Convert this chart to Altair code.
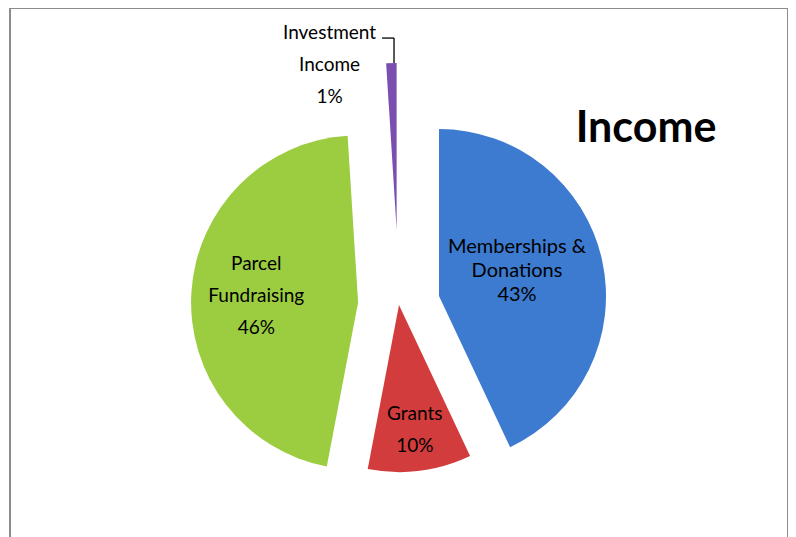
import altair as alt
import pandas as pd

# ---- data ----
keys = ["Memberships", "Grants", "Parcel", "Investment"]
names = ["Memberships &\nDonations", "Grants", "Parcel\nFundraising", "Investment\nIncome"]
shares = [43, 10, 46, 1]
colors = ["#3c7bd0", "#d23c3c", "#9ccc40", "#7a4fb0"]
TITLE = "Income"

# ---- style / layout ----
W, H = 778, 540
CX, CY = 389, 297          # pie centre in plot pixels
R = 167                    # pie radius
EXPLODE = {"Memberships": 41, "Grants": 0, "Parcel": 41, "Investment": 75}
LABEL_R = {"Memberships": 82, "Grants": 126, "Parcel": 102, "Investment": 178}
LABEL_DT = {"Memberships": -0.094, "Investment": -0.355}
FONT = "Lato"

labels = [f"{n}\n{s}%" for n, s in zip(names, shares)]
df = pd.DataFrame({
    "key": keys,
    "share": shares,
    "idx": list(range(len(keys))),
    "label": labels,
    "nl": [lab.count("\n") + 1 for lab in labels],
})


def lookup(d, default=0):
    expr = str(default)
    for k, v in d.items():
        expr = f"datum.key === '{k}' ? {v} : ({expr})"
    return expr


base = (
    alt.Chart(df)
    .transform_joinaggregate(total="sum(share)")
    .transform_window(cum="sum(share)", sort=[{"field": "idx"}], frame=[None, 0])
    .transform_calculate(
        a0="(datum.cum - datum.share) / datum.total * 2 * PI",
        a1="datum.cum / datum.total * 2 * PI",
    )
    .transform_calculate(
        mid="(datum.a0 + datum.a1) / 2",
        ex=lookup(EXPLODE),
        lr=lookup(LABEL_R),
        dt=lookup(LABEL_DT),
    )
    .transform_calculate(
        tx=f"{CX} + datum.ex * sin(datum.mid)",
        ty=f"{CY} - datum.ex * cos(datum.mid)",
        la="(datum.mid + datum.a1) / 2",
    )
    .transform_calculate(
        lx="datum.tx + datum.lr * sin(datum.mid + datum.dt)",
        ly="datum.ty - datum.lr * cos(datum.mid + datum.dt)",
        ox=f"datum.tx + {R} * sin(datum.la)",
        oy=f"datum.ty - {R} * cos(datum.la)",
    )
)

arcs = base.mark_arc(radius=R).encode(
    x=alt.X("tx:Q", scale=None, axis=None),
    y=alt.Y("ty:Q", scale=None, axis=None),
    theta=alt.Theta("a0:Q", scale=None),
    theta2="a1:Q",
    color=alt.Color("key:N", scale=alt.Scale(domain=keys, range=colors), legend=None),
)


def text_layer(flt, size, lh):
    return base.transform_filter(flt).transform_calculate(
        ly2=f"datum.ly - (datum.nl - 1) * {lh} / 2"
    ).mark_text(
        font=FONT, fontSize=size, lineHeight=lh, lineBreak="\n",
        align="center", baseline="middle", color="#000000",
    ).encode(
        x=alt.X("lx:Q", scale=None), y=alt.Y("ly2:Q", scale=None), text="label:N"
    )


text_m = text_layer("datum.key === 'Memberships'", 20, 24)
text_o = text_layer("datum.key !== 'Memberships'", 19, 32)

lead = base.transform_filter("datum.key === 'Investment'").transform_calculate(
    oy2="datum.oy - 25", ox2="datum.ox - 12"
)
lead_v = lead.mark_rule(color="#000000", strokeWidth=1.3).encode(
    x=alt.X("ox:Q", scale=None), y=alt.Y("oy:Q", scale=None), y2="oy2:Q"
)
lead_h = lead.mark_rule(color="#000000", strokeWidth=1.3).encode(
    x=alt.X("ox2:Q", scale=None), x2="ox:Q", y=alt.Y("oy2:Q", scale=None)
)

title = alt.Chart(pd.DataFrame({"t": [TITLE]})).mark_text(
    font=FONT, fontSize=43, fontWeight="bold", align="center",
    baseline="alphabetic", color="#000000",
).encode(x=alt.value(636), y=alt.value(134), text="t:N")

chart = (
    alt.layer(arcs, text_m, text_o, lead_v, lead_h, title)
    .properties(width=W, height=H, padding={"left": 2, "top": 0, "right": 0, "bottom": 0},
                autosize=alt.AutoSizeParams(type="none"), background="#ffffff")
    .configure_view(stroke="#8c8c8c", strokeWidth=2)
)

chart.save("out.html", embed_options={"renderer": "svg", "actions": False})
